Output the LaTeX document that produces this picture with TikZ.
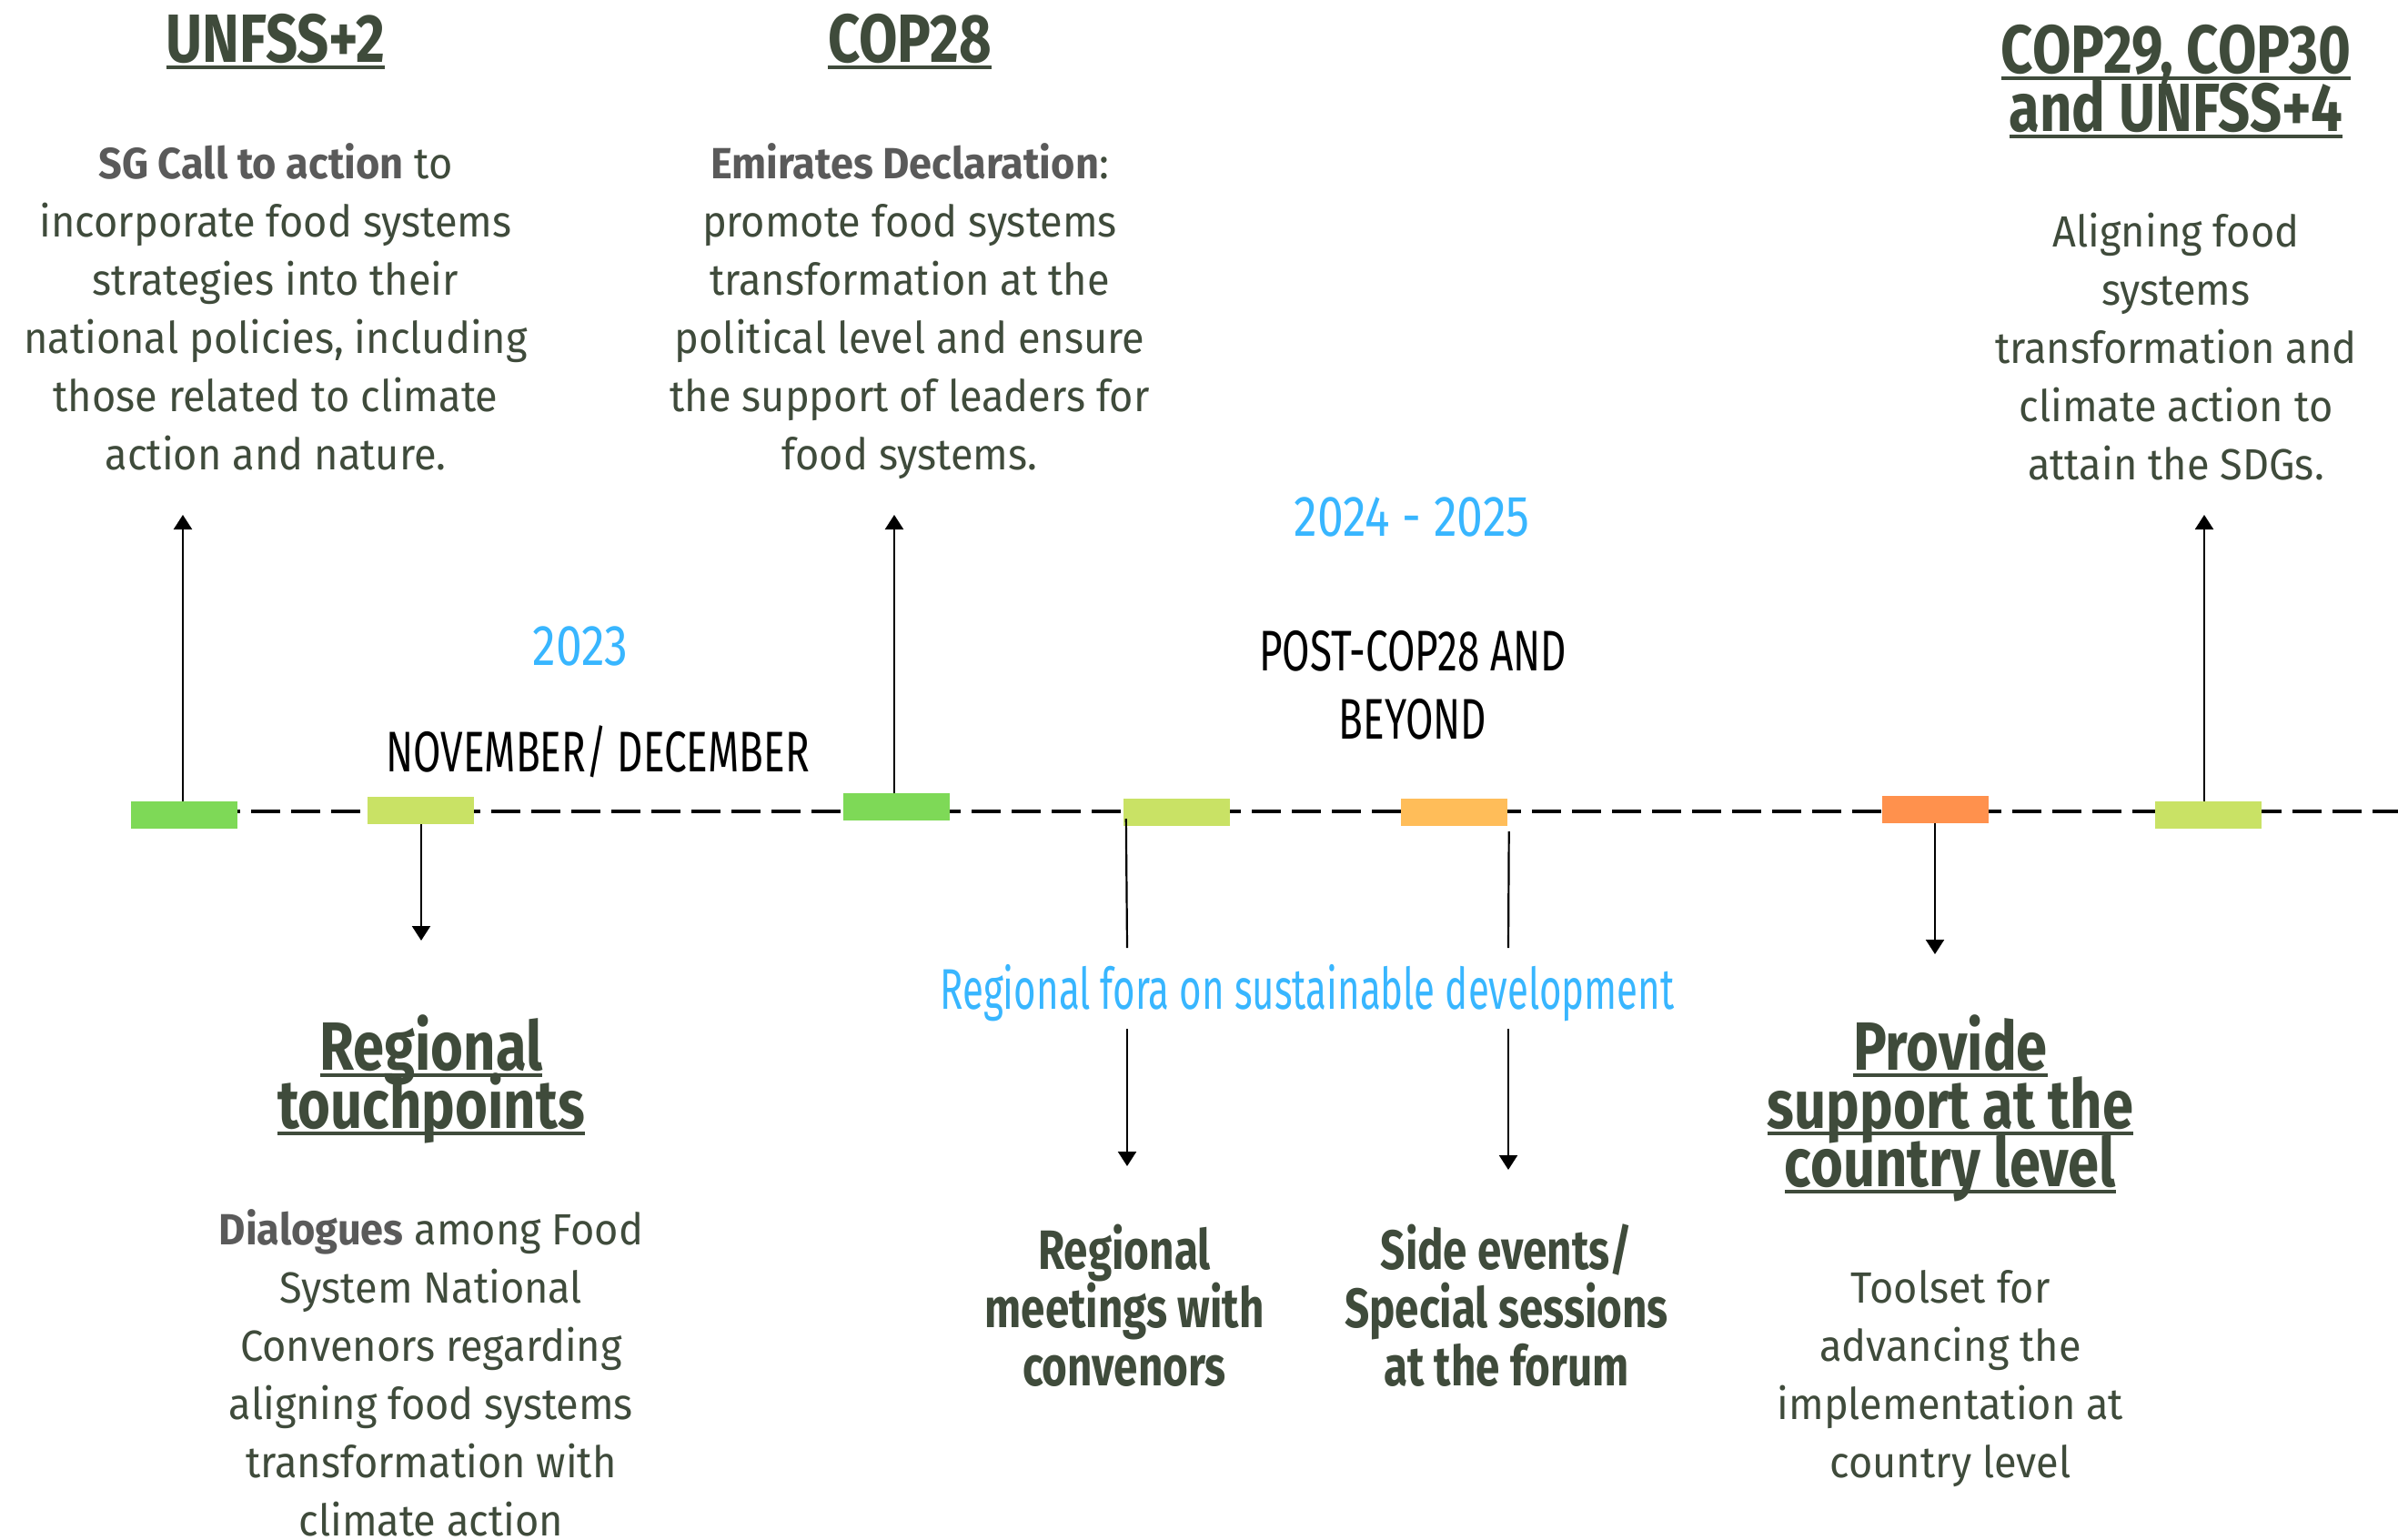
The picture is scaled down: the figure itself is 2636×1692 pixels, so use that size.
\documentclass[tikz,border=0pt]{standalone}
\usepackage{fontspec}
\usetikzlibrary{arrows.meta,calc}
\setmainfont{Fira Sans}
\newfontfamily\bodyf{Fira Sans}[FakeStretch=0.94]
\newfontfamily\headf{Fira Sans}[FakeStretch=0.82]
\newfontfamily\subf{Fira Sans}[FakeStretch=0.78]
\newfontfamily\labf{Fira Sans}[FakeStretch=0.70]
\newfontfamily\foraf{Fira Sans}[FakeStretch=0.667]
\newfontfamily\yearf{Fira Sans}[FakeStretch=0.82]
\definecolor{txt}{HTML}{3F4B3B}
\definecolor{gry}{HTML}{5A5A5A}
\definecolor{cblue}{HTML}{38B6FF}
\definecolor{cgreen}{HTML}{7ED957}
\definecolor{clime}{HTML}{C9E265}
\definecolor{cyell}{HTML}{FFBD59}
\definecolor{corange}{HTML}{FF914D}
\newcommand{\ulh}[1]{\setbox0\hbox{#1}\rlap{\rule[-7.7pt]{\wd0}{4.2pt}}\box0}
\newcommand{\gb}[1]{{\bfseries\color{gry}#1}}
\tikzset{
  bar/.style={rectangle, minimum width=117pt, minimum height=30pt, inner sep=0pt, draw=none},
  tline/.style={line width=4.5pt, black, dash pattern=on 32pt off 12pt},
  conn/.style={line width=2.2pt, black},
  arr/.style={conn, -{Triangle[width=20pt,length=16pt]}},
  head/.style={anchor=base, align=center, inner sep=0pt, text=txt, font={\headf\bfseries\fontsize{75}{64}\selectfont\lineskiplimit=-100pt}},
  sub/.style={anchor=base, align=center, inner sep=0pt, text=txt, font={\subf\bfseries\fontsize{61}{64}\selectfont\lineskiplimit=-100pt}},
  body/.style={anchor=base, align=center, inner sep=0pt, text=txt, font={\bodyf\fontsize{48}{64}\selectfont\lineskiplimit=-100pt}},
  lab/.style={anchor=base, align=center, inner sep=0pt, font={\labf\fontsize{63}{75}\selectfont\lineskiplimit=-100pt}},
  year/.style={anchor=base, inner sep=0pt, text=cblue, font=\yearf\fontsize{63}{75}\selectfont},
  fora/.style={anchor=base, inner sep=0pt, text=cblue, font=\foraf\fontsize{63}{75}\selectfont},
}
\begin{document}
\begin{tikzpicture}[x=1pt,y=-1pt]
\useasboundingbox (0,0) rectangle (2636,1692);
\fill[white] (0,0) rectangle (2636,1692);

% timeline
\coordinate (ls) at (144,892);
\coordinate (le) at (2636,892);
\draw[tline] (ls) -- (le);

% markers
\node[bar,fill=cgreen] (b1) at (202.5,896) {};
\node[bar,fill=clime] (b2) at (462.5,891) {};
\node[bar,fill=cgreen] (b3) at (985.5,887) {};
\node[bar,fill=clime] (b4) at (1293.5,893) {};
\node[bar,fill=cyell] (b5) at (1598,893) {};
\node[bar,fill=corange] (b6) at (2127.5,889.5) {};
\node[bar,fill=clime] (b7) at (2427,896) {};

% connector ends
\coordinate (t1) at (201,566);
\coordinate (t2) at (463,1034);
\coordinate (t3) at (983,566);
\coordinate (p4b) at (1239,1042);
\coordinate (p4c) at (1239,1131);
\coordinate (p4d) at (1239,1282);
\coordinate (p5b) at (1658,1042);
\coordinate (p5c) at (1658,1131);
\coordinate (p5d) at (1658,1286);
\coordinate (t6) at (2127,1049);
\coordinate (t7) at (2423,566);

\draw[arr] (b1.north -| t1) -- (t1);
\draw[arr] (b2.south -| t2) -- (t2);
\draw[arr] (b3.north -| t3) -- (t3);
\draw[conn] ($(b4.west)+(3,7)$) -- (p4b);
\draw[arr] (p4c) -- (p4d);
\draw[conn] ($(b5.south east)+(2,6)$) -- (p5b);
\draw[arr] (p5c) -- (p5d);
\draw[arr] (b6.south -| t6) -- (t6);
\draw[arr] (b7.north -| t7) -- (t7);

% headings top (anchor = baseline of last line)
\node[head] (h1) at (303,68) {\ulh{UNFSS+2}};
\node[head] (h2) at (1000,68) {\ulh{COP28}};
\node[head] (h3) at (2392,144) {\ulh{COP29, COP30}\\\ulh{and UNFSS+4}};

% top bodies
\node[body] (d1) at (303,516) {\gb{SG Call to action} to\\incorporate food systems\\strategies into their\\national policies, including\\those related to climate\\action and nature.};
\node[body] (d2) at (1000,516) {\gb{Emirates Declaration}:\\promote food systems\\transformation at the\\political level and ensure\\the support of leaders for\\food systems.};
\node[body] (d3) at (2392,527) {Aligning food\\systems\\transformation and\\climate action to\\attain the SDGs.};

% period labels
\node[year] (y1) at (638,731) {2023};
\node[lab,text=black] (m1) at (657,848) {NOVEMBER/ DECEMBER};
\node[year] (y2) at (1552,589) {2024 - 2025};
\node[lab,text=black] (m2) at (1553,812) {POST-COP28 AND\\BEYOND};
\node[fora] (fora) at (1437,1109) {Regional fora on sustainable development};

% bottom
\node[head] (h4) at (474,1240) {\ulh{Regional}\\\ulh{touchpoints}};
\node[body] (d4) at (474,1688) {\gb{Dialogues} among Food\\System National\\Convenors regarding\\aligning food systems\\transformation with\\climate action};
\node[sub] (s1) at (1236,1523) {Regional\\meetings with\\convenors};
\node[sub] (s2) at (1656,1523) {Side events/\\Special sessions\\at the forum};
\node[head] (h5) at (2144,1304) {\ulh{Provide}\\\ulh{support at the}\\\ulh{country level}};
\node[body] (d5) at (2144,1624) {Toolset for\\advancing the\\implementation at\\country level};
\end{tikzpicture}
\end{document}
